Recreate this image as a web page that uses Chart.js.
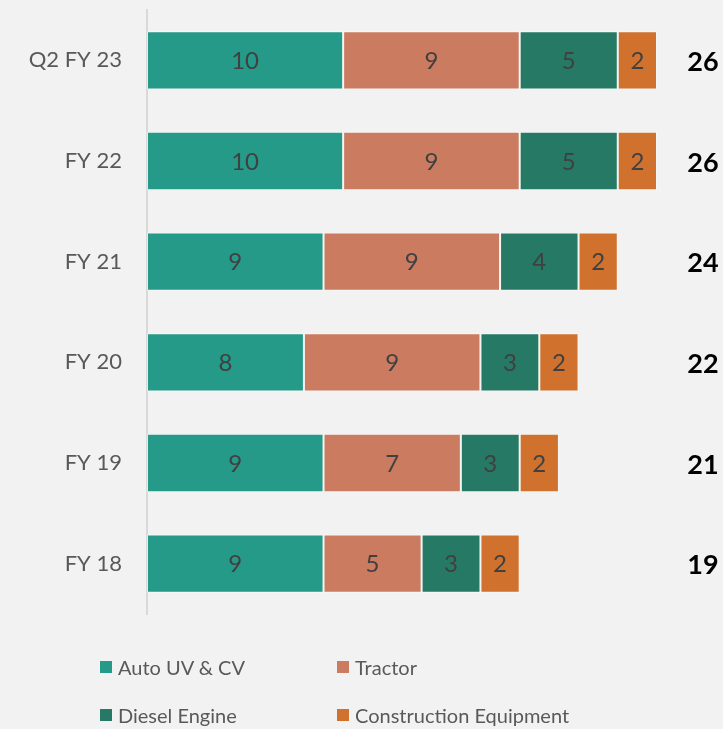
<!DOCTYPE html>
<html lang="en">
<head>
    <meta charset="UTF-8">
    <title>Segment Mix</title>
    <style>
        body {
            margin: 0;
            background: #f2f2f2;
            font-family: Lato, "Open Sans", sans-serif;
        }

        .wrap {
            position: relative;
            width: 723px;
            height: 729px;
        }

        #legend {
            position: absolute;
            left: 100px;
            top: 655px;
            display: grid;
            grid-template-columns: 237px 300px;
            row-gap: 24px;
        }

        #legend .item {
            display: flex;
            align-items: center;
            font-size: 20px;
            color: #595959;
            height: 24px;
        }

        #legend .box {
            width: 12px;
            height: 12px;
            margin-right: 6px;
        }
    </style>
</head>
<body>
    <div class="wrap">
        <canvas id="chart" width="723" height="729"></canvas>
        <div id="legend"></div>
    </div>
    <script src="https://cdn.jsdelivr.net/npm/chart.js"></script>
    <script>
        const years = ['Q2 FY 23', 'FY 22', 'FY 21', 'FY 20', 'FY 19', 'FY 18'];
        const autoUvCv = [10, 10, 9, 8, 9, 9];
        const tractor = [9, 9, 9, 9, 7, 5];
        const dieselEngine = [5, 5, 4, 3, 3, 3];
        const construction = [2, 2, 2, 2, 2, 2];

        const seriesNames = ['Auto UV & CV', 'Tractor', 'Diesel Engine', 'Construction Equipment'];
        const seriesColors = ['#259a89', '#cb7b5f', '#267a65', '#d0712e'];
        const seriesData = [autoUvCv, tractor, dieselEngine, construction];

        const totals = years.map((y, i) => seriesData.reduce((s, arr) => s + arr[i], 0));

        // value in the middle of each segment, total at the right of each bar
        const barLabels = {
            id: 'barLabels',
            afterDatasetsDraw(chart) {
                const ctx = chart.ctx;
                ctx.save();
                ctx.textAlign = 'center';
                ctx.textBaseline = 'middle';
                ctx.fillStyle = '#404040';
                ctx.font = '24px Lato, "Open Sans", sans-serif';
                chart.data.datasets.forEach((ds, di) => {
                    chart.getDatasetMeta(di).data.forEach((bar, i) => {
                        const p = bar.getCenterPoint();
                        ctx.fillText(ds.data[i], p.x, p.y + 1);
                    });
                });
                const yScale = chart.scales.y;
                ctx.fillStyle = '#000';
                ctx.font = 'bold 27px Lato, "Open Sans", sans-serif';
                totals.forEach((t, i) => {
                    ctx.fillText(t, 703, yScale.getPixelForValue(i) + 2);
                });
                ctx.restore();
            }
        };

        new Chart(document.getElementById('chart'), {
            type: 'bar',
            data: {
                labels: years,
                datasets: seriesData.map((d, i) => ({
                    label: seriesNames[i],
                    data: d,
                    backgroundColor: seriesColors[i],
                    borderColor: 'rgba(255,255,255,0.45)',
                    borderWidth: 1,
                    borderSkipped: false,
                    barPercentage: 0.58,
                    categoryPercentage: 1
                }))
            },
            options: {
                indexAxis: 'y',
                responsive: false,
                animation: false,
                layout: {
                    padding: { top: 10, right: 66, bottom: 115, left: 0 }
                },
                plugins: {
                    legend: { display: false },
                    tooltip: { enabled: false }
                },
                scales: {
                    x: {
                        stacked: true,
                        min: 0,
                        max: 26,
                        display: false
                    },
                    y: {
                        stacked: true,
                        grid: { display: false, drawTicks: false },
                        border: { display: true, color: '#d9d9d9', width: 2 },
                        ticks: {
                            color: '#595959',
                            padding: 25,
                            font: { family: 'Lato, "Open Sans", sans-serif', size: 22 }
                        },
                        afterFit(scale) {
                            scale.width = 147;
                            scale.paddingTop = 0;
                            scale.paddingBottom = 0;
                        }
                    }
                }
            },
            plugins: [barLabels]
        });

        const legend = document.getElementById('legend');
        seriesNames.forEach((name, i) => {
            const item = document.createElement('div');
            item.className = 'item';
            item.innerHTML = `<span class="box" style="background:${seriesColors[i]}"></span>${name}`;
            legend.appendChild(item);
        });
    </script>
</body>
</html>
